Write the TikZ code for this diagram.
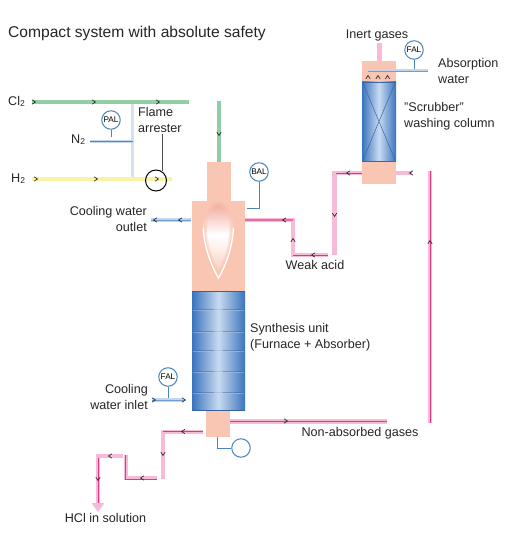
\documentclass[tikz,border=0pt]{standalone}
\usepackage{fontspec}
\setmainfont{Liberation Sans}
\usetikzlibrary{calc}
\definecolor{salmon}{HTML}{F9C6B3}
\definecolor{flametop}{HTML}{F3A597}
\definecolor{pinkL}{HTML}{F8BAD6}
\definecolor{pinkD}{HTML}{D83A86}
\definecolor{blueD}{HTML}{3A74BE}
\definecolor{blueM}{HTML}{4F85C8}
\definecolor{blueL}{HTML}{C3D6EE}
\definecolor{ringblue}{HTML}{4A86BE}
\definecolor{greenP}{HTML}{93CDA6}
\definecolor{yellowP}{HTML}{F8F3A6}
\pgfdeclareverticalshading{flamev}{100bp}{color(0bp)=(salmon);color(25bp)=(salmon);color(44bp)=(salmon!25!white);color(53bp)=(white);color(75bp)=(flametop);color(100bp)=(flametop)}
\tikzset{
  lbl/.style={font=\fontsize{12.6}{15.8}\selectfont,text=black!85,inner sep=0pt,align=left},
  lblr/.style={lbl,align=right},
  inst/.style={circle,draw=ringblue,line width=1pt,fill=white,minimum size=18.5pt,inner sep=0pt,font=\fontsize{8.2}{9}\selectfont},
  signal/.style={draw=ringblue,line width=1pt},
  pipe/.style={draw=pinkL,line width=4.6pt},
  pipecore/.style={draw=pinkD,line width=1pt},
  pipemid/.style={draw=pinkD!60!pinkL,line width=2pt},
  gas/.style={draw=greenP,line width=4.2pt},
  hyd/.style={draw=yellowP,line width=4.2pt},
  wat/.style={draw=blueL,line width=3.6pt},
  watcore/.style={draw=blueM!80,line width=0.7pt},
  chev/.style={draw=black!85,line width=0.65pt},
}
\newcommand{\chevR}[2]{\draw[chev] (#1-2,#2-2.2) -- (#1+1.5,#2) -- (#1-2,#2+2.2);}
\newcommand{\chevL}[2]{\draw[chev] (#1+2,#2-2.2) -- (#1-1.5,#2) -- (#1+2,#2+2.2);}
\newcommand{\chevU}[2]{\draw[chev] (#1-2.2,#2+2) -- (#1,#2-1.5) -- (#1+2.2,#2+2);}
\newcommand{\chevD}[2]{\draw[chev] (#1-2.2,#2-2) -- (#1,#2+1.5) -- (#1+2.2,#2-2);}
\newcommand{\flamepath}{(218.5,276) .. controls (212,266) and (203.5,247) .. (203.5,228)
   .. controls (203.5,214) and (209,204) .. (218.5,202)
   .. controls (228,204) and (233,214) .. (233,228)
   .. controls (233,247) and (225,266) .. (218.5,276) -- cycle}
\begin{document}
\begin{tikzpicture}[x=1pt,y=-1pt]
\useasboundingbox (0,0) rectangle (509,534);
\fill[white] (0,0) rectangle (509,534);

% title
\node[lbl,anchor=west,font=\fontsize{15.6}{18}\selectfont] (title) at (8,33) {Compact system with absolute safety};

% Cl2 / H2 feeds
\coordinate (clA) at (32,102); \coordinate (clB) at (189,102);
\coordinate (hA) at (32,179); \coordinate (hB) at (172,179);
\coordinate (nA) at (90,141.5); \coordinate (nB) at (132.5,141.5);
\draw[draw=blueL!70,line width=3.6pt] (132.5,102) -- (132.5,177);
\draw[gas] (clA) -- (clB);
\draw[hyd] (hA) -- (hB);
\draw[draw=blueL,line width=3pt] (nA) -- (nB);
\draw[draw=blueM!60!gray,line width=0.7pt] (nA) -- (nB);
\chevR{34}{102}\chevR{94}{102}\chevR{158}{102}
\chevR{36}{179}\chevR{96}{179}\chevR{157}{179}
\node[lbl,anchor=west] (cl) at (8,101.5) {Cl\raisebox{-0.2ex}{\fontsize{8.5}{8}\selectfont 2}};
\node[lbl,anchor=west] (n2) at (71,140) {N\raisebox{-0.2ex}{\fontsize{8.5}{8}\selectfont 2}};
\node[lbl,anchor=west] (h2) at (11,178.5) {H\raisebox{-0.2ex}{\fontsize{8.5}{8}\selectfont 2}};
\node[inst] (pal) at (111,120) {PAL};
\draw[signal] (pal.south) -- (111,137);
\node[lbl,anchor=north west] (fa) at (138,107) {Flame\\arrester};
\node[circle,draw=black,line width=1pt,minimum size=21pt,inner sep=0pt] (arr) at (156,180.5) {};
\draw[black!70,line width=1pt] (162,134) -- (162,171.5);

% green drop
\draw[gas,line width=4pt] (219,101) -- (219,163);
\chevD{219}{134}

% furnace vessel
\fill[salmon] (207,162) rectangle (231,201);
\fill[salmon] (192,201) rectangle (245,292);
\fill[salmon] (206,409) rectangle (230,436.5);
% flame
\path[shading=flamev] \flamepath;
\begin{scope}
  \clip \flamepath;
  \draw[salmon,line width=7pt,opacity=0.35] \flamepath;
  \draw[salmon,line width=4pt,opacity=0.5] \flamepath;
\end{scope}
\draw[white,line width=1.3pt,line cap=round] (203.2,228)
   .. controls (203.8,247) and (212,267) .. (218.5,278)
   .. controls (225,267) and (233,247) .. (233.3,228);

% synthesis column
\shade[left color=blueD,right color=blueD,middle color=blueL!90] (192,291) rectangle (245,410);
\draw[blueD!85!black,line width=0.6pt] (192,291) -- (245,291) (192,410) -- (245,410);
\foreach \y in {310,332,351,372,393} {
  \draw[blueD!75!black,line width=0.45pt,opacity=0.7] (193,\y) .. controls (208,\y-1) and (229,\y-1) .. (244,\y);
  \draw[white,line width=0.45pt,opacity=0.45] (193,\y+0.7) .. controls (208,\y-0.3) and (229,\y-0.3) .. (244,\y+0.7);
}

% scrubber
\fill[salmon] (362,61) rectangle (396,184);
\shade[left color=blueD,right color=blueD,middle color=blueL!90] (362,82) rectangle (396,161);
\draw[blueD!90!black,line width=0.9pt] (362,82) -- (396,82) (362,161) -- (396,161);
\draw[blueD!90!black,line width=0.5pt] (362.5,82) -- (395.5,161) (395.5,82) -- (362.5,161);
\chevU{368}{77}\chevU{378}{77}\chevU{387.5}{77}
\draw[pipe] (379.5,43) -- (379.5,61);
\draw[draw=blueL,line width=3.2pt] (368,70.5) -- (428,70.5);
\draw[draw=blueM!80,line width=0.6pt] (368,71) -- (428,71);
\node[inst] (fal1) at (414,50) {FAL};
\draw[signal] (fal1.south) -- (414,69);

% pink pipework
\draw[pipe] (245,220) -- (293,220) -- (293,255) -- (328,255);
\draw[pipemid] (245,220) -- (293,220);
\draw[pipecore] (293,255.8) -- (328,255.8);
\draw[pipe] (334.5,255) -- (334.5,173) -- (362,173);
\draw[pipecore] (336,173.5) -- (362,173.5);
\draw[pipe] (396,173) -- (412,173);
\draw[pipe] (430,171) -- (430,423);
\draw[pipecore] (430,171) -- (430,423);
\draw[pipe] (230,421.5) -- (387,421.5);
\draw[pipecore] (230,421.5) -- (387,421.5);
\draw[pipe] (203,432) -- (163,432) -- (163,479);
\draw[pipecore] (203,431.5) -- (163,431.5);
\draw[pipe] (123,456) -- (98,456) -- (98,503);
\draw[pipecore] (98,458) -- (98,503);
\draw[pipe] (126,455) -- (126,478) -- (157,478);
\draw[pipecore] (125.5,455) -- (125.5,479) -- (157,479);
\fill[pinkL] (91.5,503) -- (104.5,503) -- (98,512) -- cycle;
\chevL{284}{220}\chevU{293}{240}\chevL{313}{255}
\chevD{334.5}{215}\chevL{348}{173}\chevL{411}{173}\chevU{430}{242}
\chevR{286}{421}\chevL{183}{431.5}\chevD{163}{454}\chevL{142}{478}\chevL{110}{456}\chevD{98}{479}

% BAL and bottom instrument
\node[inst] (bal) at (259,172) {BAL};
\draw[signal] (bal.south) -- (259,208.5) -- (247,208.5);
\draw[wat] (191,220) -- (151,220);
\draw[watcore] (191,220) -- (151,220);
\chevL{155}{220}\chevL{180}{220}
\draw[wat] (152,400) -- (184,400);
\draw[watcore] (152,400) -- (184,400);
\chevR{154}{400}\chevR{184}{400}
\node[inst] (fal2) at (168,377) {FAL};
\draw[signal] (fal2.south) -- (168,398);
\node[inst] (pmp) at (241,448) {};
\draw[signal] (217,436.5) -- (217,448) -- (pmp.west);

% labels
\node[lbl,anchor=center] (ig) at (377,35) {Inert gases};
\node[lbl,anchor=north west] (aw) at (438,58) {Absorption\\water};
\node[lbl,anchor=north west] (sc) at (404,102.5) {"Scrubber"\\washing column};
\node[lbl,anchor=center] (wa) at (315,265) {Weak acid};
\node[lblr,anchor=north east] (co) at (147,206.5) {Cooling water\\outlet};
\node[lbl,anchor=north west] (su) at (250,323) {Synthesis unit\\(Furnace + Absorber)};
\node[lblr,anchor=north east] (ci) at (148,384) {Cooling\\water inlet};
\node[lbl,anchor=center] (na) at (360,433.5) {Non-absorbed gases};
\node[lbl,anchor=center] (hc) at (105.5,518) {HCl in solution};
\end{tikzpicture}
\end{document}
